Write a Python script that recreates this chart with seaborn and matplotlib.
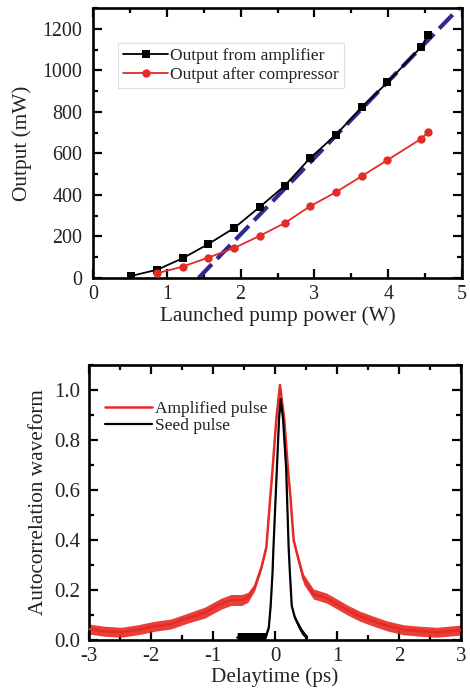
import numpy as np
import pandas as pd
import matplotlib
matplotlib.use("Agg")
import matplotlib.pyplot as plt
from matplotlib.ticker import MultipleLocator
import seaborn as sns

# ---------------- data ----------------
pump_amp = [0.52, 0.87, 1.215, 1.56, 1.91, 2.26, 2.60, 2.94, 3.29, 3.64, 3.99, 4.45, 4.54]
out_amp = [10, 40, 95, 163, 240, 342, 445, 577, 689, 821, 942, 1114, 1171]
pump_comp = [0.87, 1.215, 1.56, 1.91, 2.26, 2.60, 2.94, 3.29, 3.64, 3.99, 4.45, 4.54]
out_comp = [23, 55, 98, 144, 203, 265, 345, 413, 490, 568, 671, 703]
fit_x = [1.43, 4.96]
fit_y = [0, 1300]

red_x = [-3.0, -2.75, -2.48, -2.21, -1.94, -1.68, -1.40, -1.13, -0.87, -0.71, -0.54,
         -0.44, -0.33, -0.22, -0.14, -0.07, -0.04, 0.02, 0.08, 0.15, 0.21, 0.25, 0.30,
         0.34, 0.46, 0.62, 0.83, 1.00, 1.16, 1.37, 1.59, 1.80, 2.07, 2.34, 2.61, 2.88, 3.0]
red_y = [0.044, 0.035, 0.031, 0.041, 0.055, 0.064, 0.088, 0.11, 0.145, 0.16, 0.16,
         0.17, 0.21, 0.29, 0.37, 0.59, 0.68, 0.88, 1.02, 0.88, 0.68, 0.57, 0.40,
         0.36, 0.244, 0.184, 0.168, 0.144, 0.121, 0.095, 0.075, 0.057, 0.041, 0.035, 0.031, 0.037, 0.04]
red_spread = [0.02, 0.02, 0.02, 0.02, 0.02, 0.02, 0.02, 0.022, 0.022, 0.022, 0.022,
              0.02, 0.015, 0.01, 0.008, 0.006, 0.006, 0.006, 0.004, 0.006, 0.006, 0.006, 0.008,
              0.01, 0.02, 0.02, 0.02, 0.02, 0.02, 0.02, 0.02, 0.02, 0.02, 0.02, 0.02, 0.02, 0.02]

seed_x = [-0.61, -0.45, -0.30, -0.18, -0.14, -0.10, -0.07, -0.04, -0.025, 0.03, 0.065, 0.09,
          0.13, 0.18, 0.22, 0.24, 0.27, 0.32, 0.376, 0.43, 0.48, 0.52]
seed_y = [0.01, 0.01, 0.01, 0.01, 0.02, 0.05, 0.137, 0.27, 0.37, 0.684, 0.884, 0.964,
          0.884, 0.684, 0.37, 0.27, 0.137, 0.09, 0.06, 0.035, 0.02, 0.01]
seed_spread = [0.02, 0.02, 0.02, 0.02, 0.01, 0.004, 0.003, 0.003, 0.003, 0.003, 0.003, 0.003,
               0.003, 0.003, 0.003, 0.003, 0.004, 0.008, 0.012, 0.012, 0.01, 0.008]

top_xticks = [0, 1, 2, 3, 4, 5]
top_yticks = [0, 200, 400, 600, 800, 1000, 1200]
bot_xticks = [-3, -2, -1, 0, 1, 2, 3]
bot_yticks = [0.0, 0.2, 0.4, 0.6, 0.8, 1.0]

# ---------------- style ----------------
sns.set_theme(style="ticks")
plt.rcParams['font.family'] = ['Liberation Serif', 'DejaVu Serif']
plt.rcParams['axes.unicode_minus'] = False

RED = '#e62a26'
NAVY = '#2f2b8e'

fig = plt.figure(figsize=(4.70, 6.99), dpi=100)
ax1 = fig.add_axes([93 / 470, 1 - 278 / 699, 369 / 470, 270 / 699])
ax2 = fig.add_axes([89 / 470, 1 - 640 / 699, 372 / 470, 275 / 699])


def style_axes(ax, tick_fs, ypad, xpad):
    for s in ax.spines.values():
        s.set_linewidth(1.9)
        s.set_color('black')
    ax.tick_params(which='both', direction='in', top=True, right=True, color='black')
    ax.tick_params(which='major', length=6.5, width=1.6, labelsize=tick_fs)
    ax.tick_params(which='minor', length=3.8, width=1.6)
    ax.tick_params(axis='y', pad=ypad)
    ax.tick_params(axis='x', pad=xpad)
    for lab in ax.get_xticklabels() + ax.get_yticklabels():
        lab.set_color('#222222')


# ---------------- top panel ----------------
sns.lineplot(x=fit_x, y=fit_y, ax=ax1, color=NAVY, lw=3.0, zorder=2)
ax1.lines[-1].set_dashes([4.6, 1.8])
l_amp = sns.lineplot(x=pump_amp, y=out_amp, ax=ax1, color='black', lw=1.3, marker='s',
                     markersize=5.2, markeredgewidth=0, zorder=3,
                     label='Output from amplifier').lines[-1]
l_comp = sns.lineplot(x=pump_comp, y=out_comp, ax=ax1, color=RED, lw=1.3, marker='o',
                      markersize=6.0, markeredgewidth=0, zorder=3,
                      label='Output after compressor').lines[-1]
ax1.set_xlim(0, 5)
ax1.set_ylim(0, 1300)
ax1.set_xticks(top_xticks)
ax1.set_yticks(top_yticks)
ax1.xaxis.set_minor_locator(MultipleLocator(0.5))
ax1.yaxis.set_minor_locator(MultipleLocator(100))
ax1.set_xlabel('Launched pump power (W)', fontsize=15.3, color='#222222', labelpad=2)
ax1.set_ylabel('Output (mW)', fontsize=15.3, color='#222222', labelpad=8)
style_axes(ax1, 14.4, 7.5, 5)
leg1 = ax1.legend(handles=[l_amp, l_comp], loc='upper left', bbox_to_anchor=(0.068, 0.872),
                  borderaxespad=0, fontsize=12.5, frameon=True, fancybox=False,
                  handlelength=2.6, handletextpad=0.1, borderpad=0.3, labelspacing=0.15)
leg1.get_frame().set_edgecolor('#d8d8d8')
leg1.get_frame().set_linewidth(0.8)
for t in leg1.get_texts():
    t.set_color('#222222')

# ---------------- bottom panel ----------------
ry = np.array(red_y)
rs = np.array(red_spread)
ax2.fill_between(red_x, ry - rs, ry + rs, color=RED, lw=0, alpha=0.9, zorder=2)
l_red = sns.lineplot(x=red_x, y=red_y, ax=ax2, color=RED, lw=1.8, zorder=3,
                     label='Amplified pulse').lines[-1]
sy = np.array(seed_y)
ss = np.array(seed_spread)
ax2.fill_between(seed_x, sy - ss, sy + ss, color='black', lw=0, zorder=4)
l_seed = sns.lineplot(x=seed_x, y=seed_y, ax=ax2, color='black', lw=1.6, zorder=5,
                      label='Seed pulse').lines[-1]
ax2.set_xlim(-3, 3)
ax2.set_ylim(0, 1.1)
ax2.set_xticks(bot_xticks)
ax2.set_yticks(bot_yticks)
ax2.set_yticklabels([f'{v:.1f}' for v in bot_yticks])
ax2.xaxis.set_minor_locator(MultipleLocator(0.5))
ax2.yaxis.set_minor_locator(MultipleLocator(0.1))
ax2.set_xlabel('Delaytime (ps)', fontsize=15.3, color='#222222', labelpad=1)
ax2.set_ylabel('Autocorrelation waveform', fontsize=15.3, color='#222222', labelpad=4)
style_axes(ax2, 15.0, 6.5, 5)
leg2 = ax2.legend(handles=[l_red, l_seed], loc='upper left', bbox_to_anchor=(0.025, 0.895),
                  borderaxespad=0, fontsize=12.5, frameon=False,
                  handlelength=2.7, handletextpad=0.15, labelspacing=0.05)
for t in leg2.get_texts():
    t.set_color('#222222')

fig.savefig('out.png', dpi=100, facecolor='white')
